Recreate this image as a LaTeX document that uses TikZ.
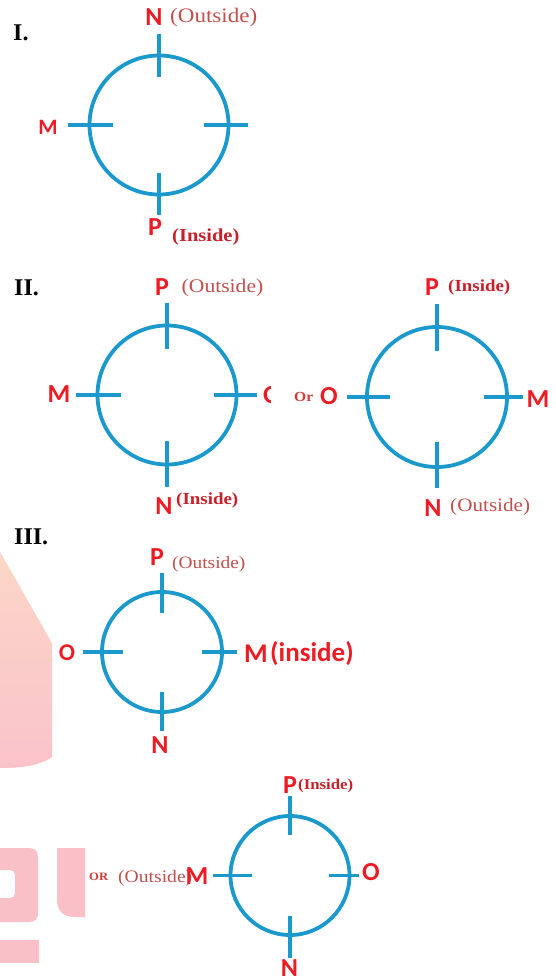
\documentclass[tikz,border=0pt]{standalone}
\usepackage{fontspec}
\setmainfont{Liberation Serif}
\newfontfamily\lblfont{Carlito}
\newfontfamily\notefont[FakeStretch=1.12]{Liberation Serif}
\definecolor{dblue}{HTML}{1B99CC}
\definecolor{lred}{HTML}{ED1C24}
\definecolor{outc}{HTML}{C0504D}
\definecolor{insc}{HTML}{C8202A}
\definecolor{orc}{HTML}{D03C38}
\definecolor{wmtop}{HTML}{FBD6C8}
\definecolor{wmbot}{HTML}{FAC3CA}
\definecolor{wm}{HTML}{FAC0C8}
\tikzset{
  dial/.style={circle, draw=dblue, line width=3.8pt, inner sep=0pt, outer sep=0pt, minimum size=#1},
  dtick/.style={draw=dblue, line width=3.8pt},
  lbl/.style={text=lred, font=\lblfont\bfseries\fontsize{#1}{#1}\selectfont, inner sep=0pt},
  lbl/.default=26,
  outnote/.style={text=outc, font=\notefont\fontsize{#1}{#1}\selectfont, inner sep=0pt, anchor=west},
  innote/.style={text=insc, font=\notefont\bfseries\fontsize{#1}{#1}\selectfont, inner sep=0pt, anchor=west},
  ornote/.style={text=orc, font=\notefont\bfseries\fontsize{#1}{#1}\selectfont, inner sep=0pt, anchor=west},
  roman/.style={text=black, font=\bfseries\fontsize{24}{24}\selectfont, inner sep=0pt, anchor=west},
}
\begin{document}
\begin{tikzpicture}[x=1pt,y=-1pt]
\useasboundingbox (0,0) rectangle (555,977);
% watermark remnants
\shade[top color=wmtop, bottom color=wmbot] (-1,550) -- (52,643) -- (52,757) .. controls (40,766) and (20,768) .. (-1,768) -- cycle;
\fill[wm, even odd rule] (-5,848) -- (29,848) .. controls (35,848) and (38,851) .. (38,857) -- (38,913) .. controls (38,919) and (35,922) .. (29,922) -- (-5,922) -- cycle
  (-5,870) -- (10,870) .. controls (13,870) and (15,872) .. (15,875) -- (15,893) .. controls (15,896) and (13,898) .. (10,898) -- (-5,898) -- cycle;
\fill[wm] (85,848) -- (57,848) -- (57,899) .. controls (57,912) and (64,917) .. (75,917) -- (85,917) -- cycle;
\fill[wm] (-1,940) rectangle (39,963);

% ---------- I ----------
\node[roman] (r1) at (13,33) {I.};
\node[dial=139pt] (c1) at (159,125) {};
\draw[dtick] ([yshift=22pt]c1.north) -- ([yshift=-21pt]c1.north);
\draw[dtick] ([xshift=-22pt]c1.west) -- ([xshift=23pt]c1.west);
\draw[dtick] ([xshift=-25pt]c1.east) -- ([xshift=19pt]c1.east);
\draw[dtick] ([yshift=22pt]c1.south) -- ([yshift=-20pt]c1.south);
\node[lbl] (n1) at (154,17) {N};
\node[outnote=20.6] (n1o) at (170,18) {(Outside)};
\node[lbl=22] (m1) at (48,127) {M};
\node[lbl] (p1) at (155,227) {P};
\node[innote=18.3] (p1i) at (172,237) {(Inside)};

% ---------- II left ----------
\node[roman] (r2) at (14,288) {II.};
\node[dial=139pt] (c2) at (167,395) {};
\draw[dtick] ([yshift=23pt]c2.north) -- ([yshift=-23pt]c2.north);
\draw[dtick] ([xshift=-22pt]c2.west) -- ([xshift=23pt]c2.west);
\draw[dtick] ([xshift=-23pt]c2.east) -- ([xshift=20pt]c2.east);
\draw[dtick] ([yshift=24pt]c2.south) -- ([yshift=-22pt]c2.south);
\node[lbl] (p2) at (162,287) {P};
\node[outnote=19.3] (p2o) at (181.5,288) {(Outside)};
\node[lbl] (m2) at (59,394) {M};
\begin{scope}
  \clip (255,375) rectangle (270,415);
  \node[lbl] (o2) at (272,395) {O};
\end{scope}
\node[lbl] (n2) at (164,506) {N};
\node[innote=16.9] (n2i) at (176,500) {(Inside)};

% ---------- II right ----------
\node[ornote=13.9] (or2) at (294,397) {Or};
\node[dial=140pt] (c3) at (437,397) {};
\draw[dtick] ([yshift=23pt]c3.north) -- ([yshift=-24pt]c3.north);
\draw[dtick] ([xshift=-20pt]c3.west) -- ([xshift=23pt]c3.west);
\draw[dtick] ([xshift=-23pt]c3.east) -- ([xshift=16pt]c3.east);
\draw[dtick] ([yshift=25pt]c3.south) -- ([yshift=-21pt]c3.south);
\node[lbl] (p3) at (432,287) {P};
\node[innote=16.9] (p3i) at (448,287) {(Inside)};
\node[lbl] (o3) at (329,396) {O};
\node[lbl] (m3) at (538,399) {M};
\node[lbl] (n3) at (433,508) {N};
\node[outnote=18.9] (n3o) at (450,507) {(Outside)};

% ---------- III ----------
\node[roman] (r3) at (14,537) {III.};
\node[dial=120pt] (c4) at (162,652) {};
\draw[dtick] ([yshift=19pt]c4.north) -- ([yshift=-21pt]c4.north);
\draw[dtick] ([xshift=-19pt]c4.west) -- ([xshift=21pt]c4.west);
\draw[dtick] ([xshift=-20pt]c4.east) -- ([xshift=15pt]c4.east);
\draw[dtick] ([yshift=20pt]c4.south) -- ([yshift=-19pt]c4.south);
\node[lbl] (p4) at (157,557) {P};
\node[outnote=17.3] (p4o) at (172,564) {(Outside)};
\node[lbl=24] (o4) at (67,653) {O};
\node[lbl=27] (m4) at (256,654) {M};
\node[lbl=27, anchor=west] (m4i) at (270,654) {(inside)};
\node[lbl] (n4) at (160,745) {N};

% ---------- III alternative ----------
\node[dial=119pt] (c5) at (290,875.5) {};
\draw[dtick] ([yshift=20pt]c5.north) -- ([yshift=-19pt]c5.north);
\draw[dtick] ([xshift=-18pt]c5.west) -- ([xshift=21pt]c5.west);
\draw[dtick] ([xshift=-21pt]c5.east) -- ([xshift=9pt]c5.east);
\draw[dtick] ([yshift=19pt]c5.south) -- ([yshift=-23pt]c5.south);
\node[lbl] (p5) at (290,785) {P};
\node[innote=15] (p5i) at (298,786) {(Inside)};
\node[ornote=11.3] (or5) at (89,877) {OR};
\node[outnote=17.5] (m5o) at (118,878) {(Outside)};
\node[lbl] (m5) at (197,876.5) {M};
\node[lbl] (o5) at (371,872) {O};
\node[lbl] (n5) at (289.5,968) {N};
\end{tikzpicture}
\end{document}
